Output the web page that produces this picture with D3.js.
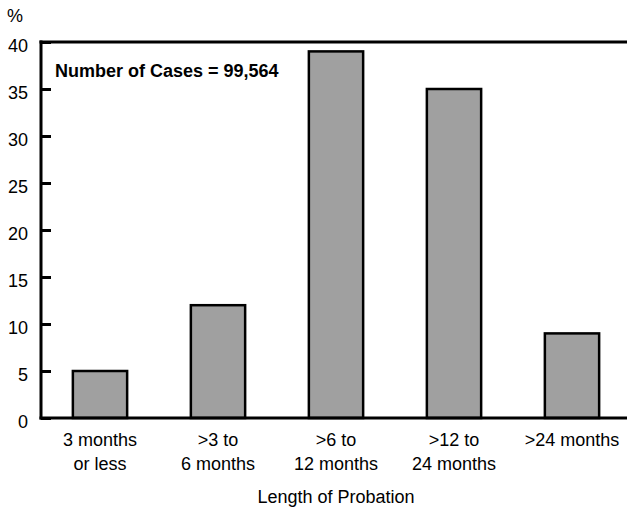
<!DOCTYPE html>
<html><head><meta charset="utf-8">
<script src="https://cdn.jsdelivr.net/npm/d3@7"></script>
<style>body{margin:0;background:#fff}svg{display:block}text{font-family:"Liberation Sans",Arial,sans-serif;fill:#000}</style>
</head><body><svg id="c" width="627" height="510"></svg>
<script>
const categories = ["3 months|or less", ">3 to|6 months", ">6 to|12 months", ">12 to|24 months", ">24 months"];
const values = [5, 12, 39, 35, 9];
const yTicks = [0, 5, 10, 15, 20, 25, 30, 35, 40];
const annotation = "Number of Cases = 99,564";
const xTitle = "Length of Probation";
const yUnit = "%";

const FONT = '"Liberation Sans",Arial,sans-serif';
const svg = d3.select("#c");
const x = d3.scaleBand().domain(categories).range([41, 631]).paddingInner(0.54).paddingOuter(0.27);
const y = d3.scaleLinear().domain([0, 40]).range([418, 42]);

// bars
svg.append("g").selectAll("rect").data(values).join("rect")
  .attr("x", (d, i) => x(categories[i]))
  .attr("y", d => y(d))
  .attr("width", x.bandwidth())
  .attr("height", d => y(0) - y(d))
  .attr("fill", "#a0a0a0").attr("stroke", "#000").attr("stroke-width", 2.5);

// y axis
const ya = svg.append("g").attr("transform", "translate(41,0)")
  .call(d3.axisLeft(y).tickValues(yTicks).tickSizeInner(-10).tickSizeOuter(0).tickPadding(13));
ya.select(".domain").remove();
ya.attr("font-size", 18).attr("font-family", FONT);
ya.selectAll(".tick line").attr("stroke", "#000").attr("stroke-width", 3);
ya.selectAll(".tick text").attr("font-size", 18).attr("font-family", FONT).attr("dy", "0.5em");

// frame lines
svg.append("line").attr("x1", 41).attr("x2", 41).attr("y1", 40.5).attr("y2", 419.5).attr("stroke", "#000").attr("stroke-width", 3);
svg.append("line").attr("x1", 39.5).attr("x2", 627).attr("y1", y(0)).attr("y2", y(0)).attr("stroke", "#000").attr("stroke-width", 3);
svg.append("line").attr("x1", 39.5).attr("x2", 627).attr("y1", y(40)).attr("y2", y(40)).attr("stroke", "#000").attr("stroke-width", 3);

// x labels
const xl = svg.append("g").selectAll("text").data(categories).join("text")
  .attr("text-anchor", "middle").attr("font-size", 18)
  .attr("x", d => x(d) + x.bandwidth() / 2).attr("y", 446);
xl.each(function(d) {
  const parts = d.split("|");
  const t = d3.select(this);
  parts.forEach((p, i) => t.append("tspan").attr("x", x(d) + x.bandwidth() / 2).attr("dy", i === 0 ? 0 : 24).text(p));
});

svg.append("text").attr("x", 336).attr("y", 503).attr("text-anchor", "middle").attr("font-size", 18).text(xTitle);
svg.append("text").attr("x", 7).attr("y", 22).attr("font-size", 18).text(yUnit);
svg.append("text").attr("x", 55).attr("y", 77).attr("font-size", 18).attr("font-weight", "bold").text(annotation);
</script></body></html>
